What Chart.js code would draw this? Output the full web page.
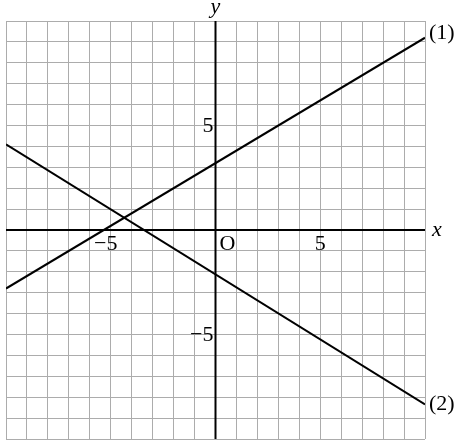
<!DOCTYPE html>
<html>
<head>
<meta charset="utf-8">
<script src="https://cdn.jsdelivr.net/npm/chart.js@4"></script>
<style>
  html, body { margin: 0; padding: 0; background: #fff; }
  canvas { display: block; }
</style>
</head>
<body>
<canvas id="graph" width="462" height="440"></canvas>
<script>
// Axis range (both axes)
const axisMin = -10;
const axisMax = 10;

// Endpoints of the two lines
const line1X = [-10, 10];
const line1Y = [-2.8, 9.2];
const line2X = [-10, 10];
const line2Y = [4.1, -8.35];

// Tick labels drawn next to the axes
const xTickValues = [-5, 5];
const xTickTexts = ['−5', '5'];
const yTickValues = [5, -5];
const yTickTexts = ['5', '−5'];

const toPoints = (xs, ys) => xs.map((x, i) => ({ x: x, y: ys[i] }));

const serif = '"Liberation Serif", "DejaVu Serif", serif';

// Draws the axis lines through the origin plus all the text labels
const axisLabels = {
  id: 'axisLabels',
  beforeDatasetsDraw(chart) {
    const { ctx, chartArea, scales } = chart;
    const x0 = scales.x.getPixelForValue(0);
    const y0 = scales.y.getPixelForValue(0);
    ctx.save();
    ctx.strokeStyle = '#000';
    ctx.lineWidth = 2;
    ctx.beginPath();
    ctx.moveTo(chartArea.left, y0);
    ctx.lineTo(chartArea.right, y0);
    ctx.moveTo(x0, chartArea.top);
    ctx.lineTo(x0, chartArea.bottom);
    ctx.stroke();
    ctx.restore();
  },
  afterDatasetsDraw(chart) {
    const { ctx, chartArea, scales } = chart;
    const x0 = scales.x.getPixelForValue(0);
    const y0 = scales.y.getPixelForValue(0);
    ctx.save();
    ctx.fillStyle = '#000';
    ctx.textBaseline = 'middle';

    ctx.font = '22px ' + serif;
    // x tick labels under the axis
    ctx.textAlign = 'center';
    xTickValues.forEach((v, i) => {
      const shift = xTickTexts[i].startsWith('−') ? -5 : 0;
      ctx.fillText(xTickTexts[i], scales.x.getPixelForValue(v) + shift, y0 + 14);
    });
    // y tick labels left of the axis
    ctx.textAlign = 'right';
    yTickValues.forEach((v, i) => {
      ctx.fillText(yTickTexts[i], x0 - 2, scales.y.getPixelForValue(v) + 1);
    });
    // origin
    ctx.textAlign = 'center';
    ctx.fillText('O', x0 + 12, y0 + 14);

    // line names at the right ends
    ctx.textAlign = 'left';
    ctx.fillText('(1)', chartArea.right + 4, scales.y.getPixelForValue(line1Y[1]) - 5);
    ctx.fillText('(2)', chartArea.right + 4, scales.y.getPixelForValue(line2Y[1]));

    // axis names
    ctx.font = 'italic 22px ' + serif;
    ctx.fillText('x', chartArea.right + 7, y0);
    ctx.textAlign = 'center';
    ctx.fillText('y', x0, chartArea.top - 14);
    ctx.restore();
  }
};

const lineStyle = {
  borderColor: '#000',
  borderWidth: 2,
  pointRadius: 0,
  showLine: true,
  fill: false,
  tension: 0
};

const gridScale = {
  type: 'linear',
  min: axisMin,
  max: axisMax,
  ticks: { display: false, stepSize: 1 },
  grid: { color: '#acacac', lineWidth: 1, drawTicks: false },
  border: { display: false }
};

new Chart(document.getElementById('graph'), {
  type: 'scatter',
  data: {
    datasets: [
      Object.assign({ label: '(1)', data: toPoints(line1X, line1Y) }, lineStyle),
      Object.assign({ label: '(2)', data: toPoints(line2X, line2Y) }, lineStyle)
    ]
  },
  options: {
    responsive: false,
    animation: false,
    devicePixelRatio: 1,
    layout: { padding: { left: 6, right: 37, top: 21, bottom: 1 } },
    plugins: {
      legend: { display: false },
      tooltip: { enabled: false }
    },
    scales: {
      x: gridScale,
      y: gridScale
    }
  },
  plugins: [axisLabels]
});
</script>
</body>
</html>
